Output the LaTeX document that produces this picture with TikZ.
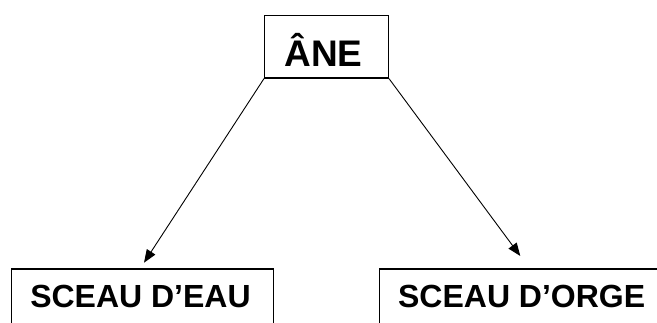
\documentclass[tikz,border=0pt]{standalone}
\usepackage{fontspec}
\setmainfont{Liberation Sans}
\usetikzlibrary{arrows.meta}
\tikzset{
  box/.style={draw, line width=1.3pt, inner sep=0pt, anchor=north west},
  lbl/.style={font=\bfseries, inner sep=0pt, anchor=base},
  arr/.style={line width=0.9pt, -{Triangle[length=13pt,width=10pt]}}
}
\begin{document}
\begin{tikzpicture}[x=1pt,y=1pt]
\useasboundingbox (0,0) rectangle (657,322);
\clip (0,0) rectangle (657,322);
% top box
\node[box, minimum width=123.7pt, minimum height=62.6pt] (ane) at (264,307.3) {};
\node[lbl, font=\fontsize{37}{40}\selectfont\bfseries] (anet) at (323.5,255.3) {ÂNE};
% bottom boxes
\node[box, minimum width=261.7pt, minimum height=70pt] (eau) at (11,53.7) {};
\node[lbl, font=\fontsize{32}{35}\selectfont\bfseries] (eaut) at (140.5,14.7) {SCEAU D’EAU};
\node[box, minimum width=300pt, minimum height=70pt] (orge) at (378.7,53.7) {};
\node[lbl, font=\fontsize{32}{35}\selectfont\bfseries] (orget) at (521.7,14.7) {SCEAU D’ORGE};
% arrow tips
\coordinate (t1) at (144,59.3);
\coordinate (t2) at (520.3,66);
\draw[arr] (ane.south west) -- (t1);
\draw[arr] (ane.south east) -- (t2);
\end{tikzpicture}
\end{document}
